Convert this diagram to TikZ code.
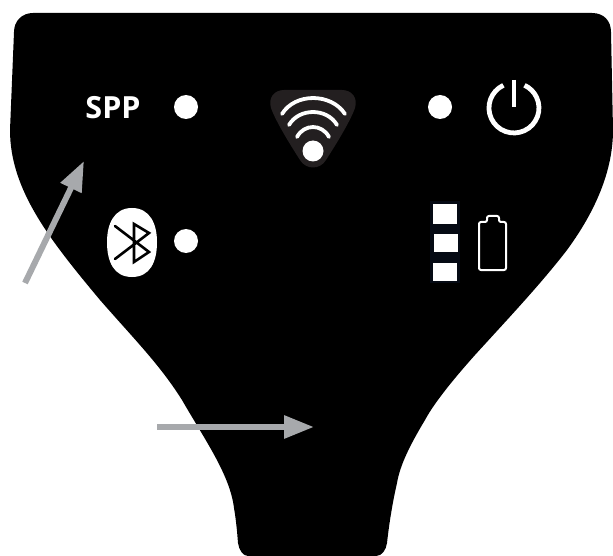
\documentclass[tikz,border=0pt]{standalone}
\usepackage{fontspec}
\setmainfont{Open Sans}
\usetikzlibrary{arrows.meta}
\definecolor{arrowgray}{HTML}{A7A9AC}
\definecolor{badge}{HTML}{231F20}
\definecolor{barback}{HTML}{050A14}
\tikzset{
  led/.style={circle,fill=white,draw=none,minimum size=24pt,inner sep=0pt},
  pointer/.style={draw=arrowgray,line width=6pt,-{Triangle[length=30pt,width=22pt,fill=arrowgray]}},
  wave/.style={draw=white,line width=3.8pt,line cap=round},
  levelbar/.style={fill=white,draw=none},
  rune/.style={draw=black,line width=2.6pt,line join=miter,line cap=round}
}
\begin{document}
\begin{tikzpicture}[x=1pt,y=-1pt]
\useasboundingbox (0,0) rectangle (613,556);
\fill[white] (0,0) rectangle (613,556);
% body
\fill[black] (33,13) -- (592,13)
  .. controls (604,13) and (611,21) .. (611,32)
  -- (613,130)
  .. controls (613,165) and (600,205) .. (567,250)
  .. controls (540,285) and (505,322) .. (475,355)
  .. controls (450,383) and (433,405) .. (425,420)
  .. controls (410,445) and (400,465) .. (397,483)
  .. controls (392,505) and (389,525) .. (387,543)
  .. controls (386,550) and (382,556) .. (376,556)
  -- (248,556)
  .. controls (243,556) and (239,550) .. (238,543)
  .. controls (237,530) and (236,520) .. (234,508)
  .. controls (230,475) and (205,440) .. (182,400)
  .. controls (160,365) and (135,340) .. (100,300)
  .. controls (50,240) and (10,190) .. (10,130)
  -- (14,32)
  .. controls (14,21) and (22,13) .. (33,13) -- cycle;
% LEDs and label
\node[text=white,font=\fontsize{30.5}{30.5}\selectfont\bfseries,inner sep=0pt,anchor=center] (spp) at (113,108) {SPP};
\node[led] (ledspp) at (186,107) {};
\node[led] (ledbt) at (186,241) {};
\node[led] (ledpow) at (440,107) {};
% wifi
\fill[badge] (284,90) -- (342,90)
  .. controls (352,90) and (358,98) .. (355,108)
  .. controls (350,122) and (335,146) .. (326,160)
  .. controls (320,170) and (306,170) .. (300,160)
  .. controls (291,146) and (276,122) .. (271,108)
  .. controls (268,98) and (274,90) .. (284,90) -- cycle;
\draw[wave] (282,114) .. controls (295,92.7) and (331,92.7) .. (345,114);
\draw[wave] (289,125) .. controls (299,107.7) and (327,107.7) .. (337,125);
\draw[wave] (297,137) .. controls (304,123.7) and (322,123.7) .. (329,137);
\fill[white] (313,151) circle[radius=10.5pt];
% power
\draw[white,line width=4.8pt] (503.4,85.3) arc[start angle=115,delta angle=310,radius=25pt];
\draw[white,line width=4.8pt] (514,80) -- (514,107);
% bluetooth
\fill[white] (132,208) .. controls (150,208) and (157,224) .. (157,242)
  .. controls (157,262) and (150,277) .. (132,277)
  .. controls (114,277) and (107,262) .. (107,242)
  .. controls (107,224) and (114,208) .. (132,208) -- cycle;
\draw[rune] (115,226) -- (149,252) -- (134,262) -- (134,224) -- (149,233) -- (115,259);
% level bars
\fill[barback] (430,201) rectangle (460,283);
\fill[levelbar] (433,204) rectangle (457,224);
\fill[levelbar] (434,234) rectangle (458,252);
\fill[levelbar] (433,263) rectangle (457,281);
% battery
\draw[white,line width=2pt,rounded corners=2pt] (479,270) -- (479,222) -- (487,222) -- (487,216) -- (499,216) -- (499,222) -- (506,222) -- (506,270) -- cycle;
% arrows
\coordinate (a1s) at (25,283);
\coordinate (a1e) at (84,161);
\coordinate (a2s) at (157,427);
\coordinate (a2e) at (314,427);
\draw[pointer] (a1s) -- (a1e);
\draw[pointer] (a2s) -- (a2e);
\end{tikzpicture}
\end{document}
